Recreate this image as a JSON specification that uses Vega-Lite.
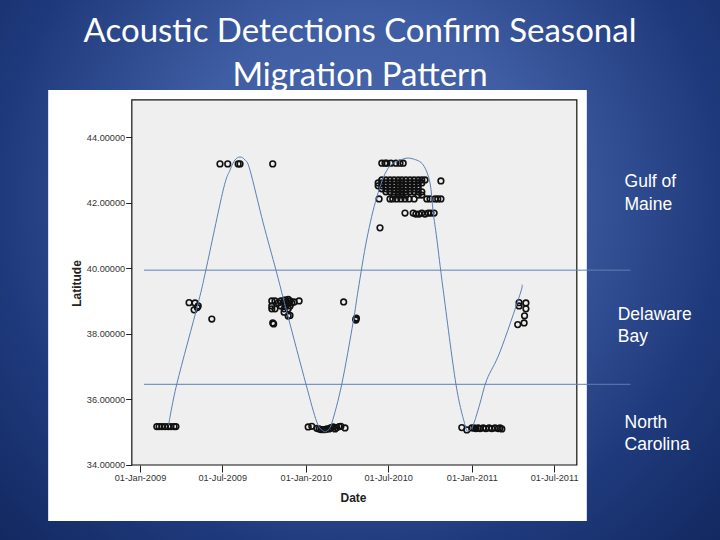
{
"$schema":"https://vega.github.io/schema/vega-lite/v6.json",
"width":720,"height":540,"padding":0,"autosize":"none",
"background":"#1b3272",
"view":{"stroke":null},
"datasets":{
"background":[{"date":"2008-02-28","date2":"2012-06-30","lat":31.713,"lat2":48.177}],
"heading":[{"label":"Acoustic Detections Confirm Seasonal","date":"2010-04-30","lat":46.9},{"label":"Migration Pattern","date":"2010-04-30","lat":45.55}],
"panel":[{"date":"2008-06-13","date2":"2011-09-11","lat":32.29,"lat2":45.43}],
"plot":[{"date":"2008-12-14","date2":"2011-08-20","lat":34,"lat2":45.13}],
"bands":[
{"band":"north","date":"2009-01-10","lat":39.94},{"band":"north","date":"2011-12-16","lat":39.94},
{"band":"south","date":"2009-01-10","lat":36.46},{"band":"south","date":"2011-12-16","lat":36.46}],
"curve":[
{"date":"2009-03-05","lat":35.22},{"date":"2009-03-23","lat":36.47},{"date":"2009-05-09","lat":38.94},{"date":"2009-05-26","lat":39.95},{"date":"2009-07-03","lat":42.38},{"date":"2009-07-18","lat":42.99},{"date":"2009-07-29","lat":43.3},{"date":"2009-08-09","lat":43.39},{"date":"2009-08-20","lat":43.3},{"date":"2009-08-31","lat":42.99},{"date":"2009-09-29","lat":41.38},{"date":"2009-10-27","lat":39.95},{"date":"2009-11-12","lat":39.09},{"date":"2009-11-23","lat":38.51},{"date":"2010-01-01","lat":36.47},{"date":"2010-01-25","lat":35.31},{"date":"2010-02-08","lat":35.04},{"date":"2010-02-16","lat":35.04},{"date":"2010-02-27","lat":35.28},{"date":"2010-03-21","lat":36.47},{"date":"2010-04-15","lat":38.36},{"date":"2010-04-26","lat":39.34},{"date":"2010-05-15","lat":40.89},{"date":"2010-06-06","lat":42.17},{"date":"2010-07-01","lat":43.05},{"date":"2010-08-03","lat":43.33},{"date":"2010-08-25","lat":43.33},{"date":"2010-09-16","lat":43.15},{"date":"2010-10-01","lat":42.6},{"date":"2010-10-08","lat":41.71},{"date":"2010-10-16","lat":40.89},{"date":"2010-10-30","lat":39.34},{"date":"2010-11-27","lat":36.47},{"date":"2010-12-17","lat":35.22},{"date":"2010-12-24","lat":35.04},{"date":"2011-01-04","lat":35.22},{"date":"2011-01-18","lat":35.83},{"date":"2011-02-03","lat":36.6},{"date":"2011-03-04","lat":37.45},{"date":"2011-04-17","lat":39.2},{"date":"2011-04-21","lat":39.49}],
"detections":[
{"date":"2009-02-07","lat":35.17},{"date":"2009-02-12","lat":35.17},{"date":"2009-02-18","lat":35.17},{"date":"2009-02-25","lat":35.17},{"date":"2009-03-04","lat":35.17},{"date":"2009-03-10","lat":35.17},{"date":"2009-03-17","lat":35.17},{"date":"2009-03-21","lat":35.17},
{"date":"2009-06-26","lat":43.18},{"date":"2009-07-13","lat":43.18},{"date":"2009-08-05","lat":43.18},{"date":"2009-08-09","lat":43.18},{"date":"2009-10-20","lat":43.18},
{"date":"2009-04-19","lat":38.95},{"date":"2009-05-02","lat":38.94},{"date":"2009-05-09","lat":38.85},{"date":"2009-04-30","lat":38.73},{"date":"2009-05-07","lat":38.8},{"date":"2009-06-08","lat":38.45},
{"date":"2009-10-18","lat":39.0},{"date":"2009-10-18","lat":38.85},{"date":"2009-10-18","lat":38.76},{"date":"2009-10-25","lat":39.0},{"date":"2009-10-25","lat":38.76},{"date":"2009-10-20","lat":38.33},{"date":"2009-10-22","lat":38.3},{"date":"2009-11-01","lat":38.94},{"date":"2009-11-07","lat":39.0},{"date":"2009-11-07","lat":38.85},{"date":"2009-11-14","lat":39.03},{"date":"2009-11-14","lat":38.94},{"date":"2009-11-14","lat":38.76},{"date":"2009-11-14","lat":38.66},{"date":"2009-11-18","lat":39.03},{"date":"2009-11-18","lat":38.85},{"date":"2009-11-23","lat":39.05},{"date":"2009-11-23","lat":38.94},{"date":"2009-11-23","lat":38.76},{"date":"2009-11-23","lat":38.54},{"date":"2009-11-27","lat":39.0},{"date":"2009-11-27","lat":38.85},{"date":"2009-11-27","lat":38.56},{"date":"2009-12-01","lat":38.94},{"date":"2009-12-06","lat":38.97},{"date":"2009-12-17","lat":39.0},
{"date":"2010-01-06","lat":35.16},{"date":"2010-01-14","lat":35.18},{"date":"2010-01-25","lat":35.12},{"date":"2010-01-30","lat":35.1},{"date":"2010-02-03","lat":35.08},{"date":"2010-02-08","lat":35.08},{"date":"2010-02-12","lat":35.08},{"date":"2010-02-16","lat":35.1},{"date":"2010-02-21","lat":35.1},{"date":"2010-02-25","lat":35.14},{"date":"2010-03-02","lat":35.16},{"date":"2010-03-06","lat":35.1},{"date":"2010-03-10","lat":35.14},{"date":"2010-03-15","lat":35.17},{"date":"2010-03-19","lat":35.18},{"date":"2010-03-28","lat":35.13},
{"date":"2010-03-25","lat":38.97},{"date":"2010-04-21","lat":38.45},{"date":"2010-04-21","lat":38.42},{"date":"2010-04-22","lat":38.48},
{"date":"2010-06-17","lat":43.2},{"date":"2010-06-24","lat":43.2},{"date":"2010-06-28","lat":43.2},{"date":"2010-07-07","lat":43.2},{"date":"2010-07-18","lat":43.2},{"date":"2010-07-27","lat":43.2},{"date":"2010-08-03","lat":43.2},
{"date":"2010-06-17","lat":42.69},{"date":"2010-06-26","lat":42.69},{"date":"2010-07-05","lat":42.69},{"date":"2010-07-14","lat":42.69},{"date":"2010-07-23","lat":42.69},{"date":"2010-07-31","lat":42.69},{"date":"2010-08-09","lat":42.69},{"date":"2010-08-18","lat":42.69},{"date":"2010-08-27","lat":42.69},{"date":"2010-09-05","lat":42.69},{"date":"2010-09-13","lat":42.69},{"date":"2010-09-20","lat":42.69},
{"date":"2010-06-09","lat":42.6},{"date":"2010-06-17","lat":42.6},{"date":"2010-06-26","lat":42.6},{"date":"2010-07-05","lat":42.6},{"date":"2010-07-14","lat":42.6},{"date":"2010-07-23","lat":42.6},{"date":"2010-07-31","lat":42.6},{"date":"2010-08-09","lat":42.6},{"date":"2010-08-18","lat":42.6},{"date":"2010-08-27","lat":42.6},{"date":"2010-09-05","lat":42.6},{"date":"2010-09-13","lat":42.6},
{"date":"2010-06-09","lat":42.51},{"date":"2010-06-17","lat":42.51},{"date":"2010-06-26","lat":42.51},{"date":"2010-07-05","lat":42.51},{"date":"2010-07-14","lat":42.51},{"date":"2010-07-23","lat":42.51},{"date":"2010-07-31","lat":42.51},{"date":"2010-08-09","lat":42.51},{"date":"2010-08-18","lat":42.51},{"date":"2010-08-27","lat":42.51},{"date":"2010-09-05","lat":42.51},
{"date":"2010-06-17","lat":42.42},{"date":"2010-06-26","lat":42.42},{"date":"2010-07-05","lat":42.42},{"date":"2010-07-14","lat":42.42},{"date":"2010-07-23","lat":42.42},{"date":"2010-07-31","lat":42.42},{"date":"2010-08-09","lat":42.42},{"date":"2010-08-18","lat":42.42},{"date":"2010-08-27","lat":42.42},{"date":"2010-09-05","lat":42.42},
{"date":"2010-06-26","lat":42.33},{"date":"2010-07-05","lat":42.33},{"date":"2010-07-14","lat":42.33},{"date":"2010-07-23","lat":42.33},{"date":"2010-07-31","lat":42.33},{"date":"2010-08-09","lat":42.33},{"date":"2010-08-18","lat":42.33},{"date":"2010-08-27","lat":42.33},{"date":"2010-09-05","lat":42.33},{"date":"2010-09-13","lat":42.33},
{"date":"2010-07-14","lat":42.23},{"date":"2010-07-23","lat":42.23},{"date":"2010-07-31","lat":42.23},{"date":"2010-08-09","lat":42.23},{"date":"2010-09-05","lat":42.23},{"date":"2010-09-13","lat":42.23},
{"date":"2010-06-11","lat":42.11},{"date":"2010-07-05","lat":42.11},{"date":"2010-07-11","lat":42.11},{"date":"2010-07-20","lat":42.11},{"date":"2010-07-29","lat":42.11},{"date":"2010-08-07","lat":42.11},{"date":"2010-08-16","lat":42.11},{"date":"2010-08-27","lat":42.11},{"date":"2010-09-24","lat":42.11},{"date":"2010-10-01","lat":42.11},{"date":"2010-10-12","lat":42.11},{"date":"2010-10-18","lat":42.11},{"date":"2010-10-25","lat":42.11},
{"date":"2010-10-25","lat":42.66},
{"date":"2010-08-07","lat":41.68},{"date":"2010-08-25","lat":41.68},{"date":"2010-08-31","lat":41.65},{"date":"2010-09-07","lat":41.65},{"date":"2010-09-13","lat":41.68},{"date":"2010-09-20","lat":41.65},{"date":"2010-09-27","lat":41.68},{"date":"2010-10-03","lat":41.68},{"date":"2010-10-10","lat":41.68},
{"date":"2010-06-13","lat":41.23},
{"date":"2010-12-10","lat":35.14},{"date":"2010-12-21","lat":35.07},{"date":"2011-01-01","lat":35.13},{"date":"2011-01-06","lat":35.13},{"date":"2011-01-10","lat":35.11},{"date":"2011-01-15","lat":35.13},{"date":"2011-01-19","lat":35.11},{"date":"2011-01-26","lat":35.13},{"date":"2011-02-01","lat":35.11},{"date":"2011-02-08","lat":35.13},{"date":"2011-02-14","lat":35.11},{"date":"2011-02-21","lat":35.13},{"date":"2011-02-28","lat":35.11},{"date":"2011-03-04","lat":35.13},{"date":"2011-03-08","lat":35.1},
{"date":"2011-04-15","lat":38.95},{"date":"2011-04-15","lat":38.85},{"date":"2011-04-30","lat":38.94},{"date":"2011-04-30","lat":38.76},{"date":"2011-04-27","lat":38.55},{"date":"2011-04-26","lat":38.33},{"date":"2011-04-12","lat":38.28}],
"labels":[
{"label":"Gulf of","date":"2011-12-03","lat":42.63},{"label":"Maine","date":"2011-12-03","lat":41.93},
{"label":"Delaware","date":"2011-11-18","lat":38.57},{"label":"Bay","date":"2011-11-18","lat":37.9},
{"label":"North","date":"2011-12-03","lat":35.28},{"label":"Carolina","date":"2011-12-03","lat":34.61}]
},
"encoding":{
"x":{"field":"date","type":"temporal","scale":{"domain":["2008-02-28","2012-06-30"]},
"axis":{"title":"Date","titleFont":"Liberation Sans","titleFontSize":12,"titleFontWeight":"bold","titleColor":"#222222","titleX":353,"titleY":27,"titleAnchor":"middle","offset":-75,"domain":false,"grid":false,"zindex":1,"values":["2009-01-01","2009-07-01","2010-01-01","2010-07-01","2011-01-01","2011-07-01"],"format":"%d-%b-%Y","tickColor":"#222222","tickSize":7,"labelPadding":1,"labelFont":"Liberation Sans","labelFontSize":9.2,"labelColor":"#333333","labelOverlap":false,"labelFlush":false}},
"y":{"field":"lat","type":"quantitative","scale":{"domain":[31.713,48.177],"nice":false,"zero":false},
"axis":{"title":"Latitude","titleFont":"Liberation Sans","titleFontSize":12,"titleFontWeight":"bold","titleColor":"#222222","titleX":-48,"titleY":283,"titleAnchor":"middle","offset":-131.7,"domain":false,"grid":false,"zindex":1,"values":[34,36,38,40,42,44],"format":".5f","tickColor":"#222222","tickSize":6,"labelPadding":1,"labelFont":"Liberation Sans","labelFontSize":9.2,"labelColor":"#333333","labelOverlap":false}}
},
"layer":[
{"data":{"name":"background"},"mark":{"type":"rect","color":{"gradient":"radial","x1":0.5,"y1":0.4,"x2":0.5,"y2":0.4,"r1":0,"r2":0.72,"stops":[{"offset":0,"color":"#4c6cb2"},{"offset":0.35,"color":"#3f5da3"},{"offset":0.7,"color":"#1f3a7c"},{"offset":1,"color":"#10265c"}]}},"encoding":{"x2":{"field":"date2"},"y2":{"field":"lat2"}}},
{"data":{"name":"heading"},"mark":{"type":"text","align":"center","baseline":"alphabetic","font":"Lato","fontSize":33,"color":"#ffffff"},"encoding":{"text":{"field":"label"}}},
{"data":{"name":"panel"},"mark":{"type":"rect","color":"#ffffff"},"encoding":{"x2":{"field":"date2"},"y2":{"field":"lat2"}}},
{"data":{"name":"plot"},"mark":{"type":"rect","color":"#efefef","stroke":"#111111","strokeWidth":1.2},"encoding":{"x2":{"field":"date2"},"y2":{"field":"lat2"}}},
{"data":{"name":"bands"},"mark":{"type":"line","color":"#5b80b4","strokeWidth":1},"encoding":{"detail":{"field":"band"}}},
{"data":{"name":"detections"},"mark":{"type":"point","shape":"circle","filled":false,"color":"#111111","size":32,"strokeWidth":1.6,"opacity":1}},
{"data":{"name":"curve"},"mark":{"type":"line","color":"#5b80b4","strokeWidth":1,"interpolate":"cardinal"}},
{"data":{"name":"labels"},"mark":{"type":"text","align":"left","baseline":"middle","font":"Liberation Sans","fontSize":17.5,"color":"#ffffff"},"encoding":{"text":{"field":"label"}}}
]
}
